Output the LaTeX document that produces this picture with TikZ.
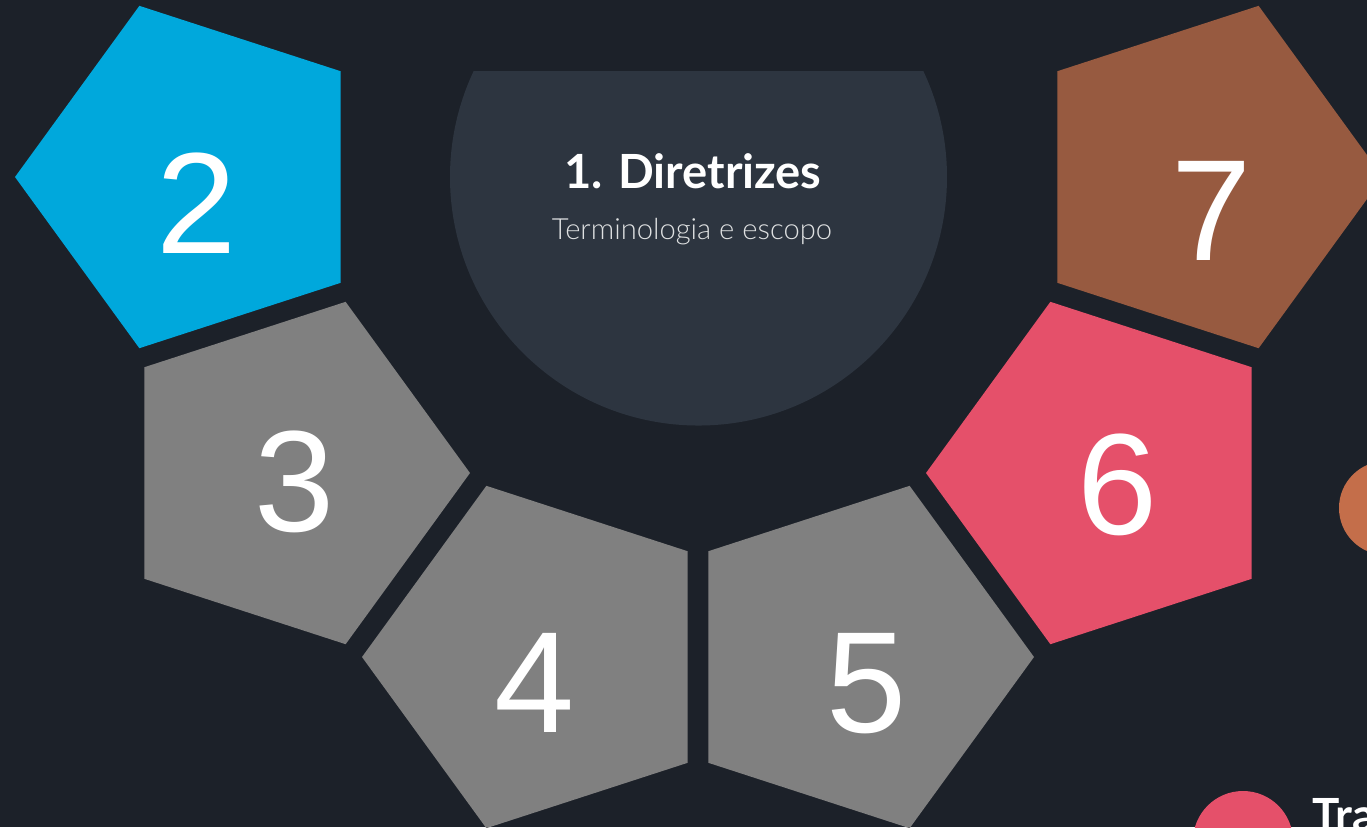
\documentclass[tikz,border=0pt]{standalone}
\usepackage{fontspec}
\setmainfont{Lato}
\newfontfamily\digitfont{Liberation Sans}
\newfontfamily\latolight{Lato Light}
\usetikzlibrary{shapes.geometric, positioning}

\definecolor{bgdark}{HTML}{1C2129}
\definecolor{panel}{HTML}{2D3540}
\definecolor{stepblue}{HTML}{00A8DC}
\definecolor{stepgrey}{HTML}{808080}
\definecolor{steppink}{HTML}{E5506A}
\definecolor{stepbrown}{HTML}{975A40}
\definecolor{steporange}{HTML}{C46E4A}

\tikzset{
  pent/.style={regular polygon, regular polygon sides=5, minimum size=3.6cm, inner sep=0pt, outer sep=0pt},
  pentleft/.style={pent, shape border rotate=90},
  pentright/.style={pent, shape border rotate=-90},
  digit/.style={text=white, anchor=base, inner sep=0pt, font=\digitfont\fontsize{41}{41}\selectfont},
  dot/.style={circle, inner sep=0pt, outer sep=0pt}
}

\begin{document}
\begin{tikzpicture}
\useasboundingbox[fill=bgdark] (0,0) rectangle (13.67,-8.27);
\clip (0,0) rectangle (13.67,-8.27);

%% centre panel, cut flat at the top
\begin{scope}
\clip (4,-0.71) rectangle (10,-5);
\node[dot, fill=panel, minimum size=4.97cm] (core) at (6.985,-1.77) {};
\end{scope}
\node[anchor=base, text=white, font=\bfseries\fontsize{13.4}{15}\selectfont] (title) at (6.93,-1.88) {1. Diretrizes};
\node[anchor=base, text=white!85!panel, font=\latolight\fontsize{8.3}{10}\selectfont] (sub) at (6.92,-2.39) {Terminologia e escopo};

%% the pentagons
\node[pentleft, fill=stepblue] (p2) at (1.95,-1.77) {};
\node[pentright, fill=stepgrey] (p3) at (2.90,-4.73) {};
\node[pentleft, fill=stepgrey] (p4) at (5.42,-6.57) {};
\node[pentright, fill=stepgrey] (p5) at (8.54,-6.57) {};
\node[pentleft, fill=steppink] (p6) at (11.06,-4.73) {};
\node[pentright, fill=stepbrown] (p7) at (12.03,-1.77) {};

\node[digit] (n2) at (1.97,-2.53) {2};
\node[digit] (n3) at (2.95,-5.31) {3};
\node[digit] (n4) at (5.35,-7.32) {4};
\node[digit] (n5) at (8.67,-7.32) {5};
\node[digit] (n6) at (11.18,-5.34) {6};
\node[digit] (n7) at (12.12,-2.60) {7};

%% next slide peeking in
\node[dot, fill=steporange, minimum size=0.94cm] (o1) at (13.86,-5.08) {};
\node[dot, fill=steppink, minimum size=1.0cm] (o2) at (12.43,-8.41) {};
\node[anchor=base west, inner sep=0pt, text=white, font=\bfseries\fontsize{13}{15}\selectfont] (tra) at (13.12,-8.31) {Tra};

\end{tikzpicture}
\end{document}
